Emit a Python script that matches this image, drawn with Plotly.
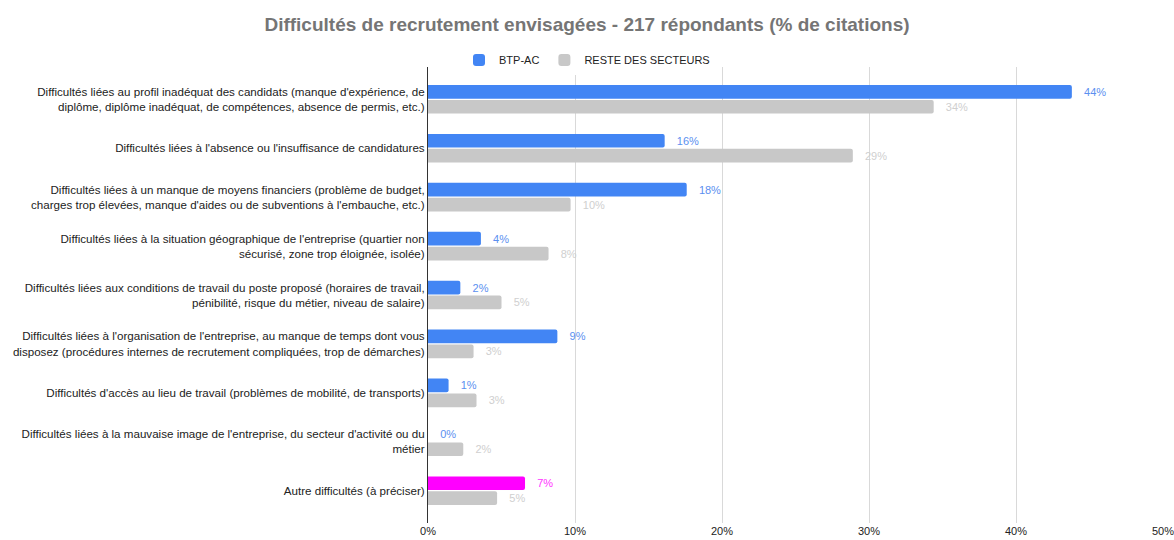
import plotly.graph_objects as go

categories = [
    "Difficultés liées au profil inadéquat des candidats (manque d'expérience, de<br>diplôme, diplôme inadéquat, de compétences, absence de permis, etc.)",
    "Difficultés liées à l'absence ou l'insuffisance de candidatures",
    "Difficultés liées à un manque de moyens financiers (problème de budget,<br>charges trop élevées, manque d'aides ou de subventions à l'embauche, etc.)",
    "Difficultés liées à la situation géographique de l'entreprise (quartier non<br>sécurisé, zone trop éloignée, isolée)",
    "Difficultés liées aux conditions de travail du poste proposé (horaires de travail,<br>pénibilité, risque du métier, niveau de salaire)",
    "Difficultés liées à l'organisation de l'entreprise, au manque de temps dont vous<br>disposez (procédures internes de recrutement compliquées, trop de démarches)",
    "Difficultés d'accès au lieu de travail (problèmes de mobilité, de transports)",
    "Difficultés liées à la mauvaise image de l'entreprise, du secteur d'activité ou du<br>métier",
    "Autre difficultés (à préciser)",
]
btp_values = [43.8, 16.1, 17.6, 3.6, 2.2, 8.8, 1.4, 0.0, 6.6]
reste_values = [34.4, 28.9, 9.7, 8.2, 5.0, 3.1, 3.3, 2.4, 4.7]
btp_colors = ["#4285f4"] * 8 + ["#ff00ff"]
btp_text_colors = ["#5b8ff0"] * 8 + ["#ff33ff"]
tick_vals = [0, 10, 20, 30, 40, 50]
tick_text = ["0%", "10%", "20%", "30%", "40%", "50%"]

FONT = "Liberation Sans, Arial"

fig = go.Figure()
fig.add_trace(go.Bar(
    name="BTP-AC", y=categories, x=btp_values, orientation="h",
    marker=dict(color=btp_colors, cornerradius=2, line=dict(width=0)),
    texttemplate="   %{x:.0f}%", textposition="outside", cliponaxis=False,
    textfont=dict(color=btp_text_colors, size=11, family=FONT),
))
fig.add_trace(go.Bar(
    name="RESTE DES SECTEURS", y=categories, x=reste_values, orientation="h",
    marker=dict(color="#c8c8c8", cornerradius=2, line=dict(width=0)),
    texttemplate="   %{x:.0f}%", textposition="outside", cliponaxis=False,
    textfont=dict(color="#cfcfcf", size=11, family=FONT),
))

fig.update_layout(
    width=1174, height=540,
    paper_bgcolor="white", plot_bgcolor="white",
    margin=dict(l=428, r=11, t=67, b=17, autoexpand=False),
    barmode="group", bargap=0.39, bargroupgap=0.08,
    font=dict(family=FONT, size=11.6, color="#222222"),
    title=dict(text="<b>Difficultés de recrutement envisagées - 217 répondants (% de citations)</b>",
               x=0.5, xanchor="center", xref="container",
               y=1 - 24 / 540, yanchor="middle", yref="container",
               font=dict(size=19, color="#757575", family=FONT)),
    legend=dict(orientation="h", x=0.5, xanchor="center", xref="container",
                y=1 + 7 / 456, yanchor="middle", yref="paper",
                font=dict(size=11, color="#222222"), traceorder="normal",
                itemwidth=30),
    showlegend=True,
)
fig.update_xaxes(range=[0, 50], tickvals=tick_vals, ticktext=tick_text,
                 showgrid=True, gridcolor="#d9d9d9", gridwidth=1,
                 zeroline=False, showline=False, ticks="", automargin=False,
                 ticklabeloverflow="allow", ticklabelstandoff=0,
                 tickfont=dict(size=11, color="#222222"), fixedrange=True)
fig.update_yaxes(range=[8.66, -0.66], showline=True, linecolor="#333333", linewidth=1,
                 ticks="", automargin=False,
                 tickfont=dict(size=11.6, color="#222222"), showgrid=False)

fig.write_html("out.html", config={"displayModeBar": False},
               post_script="document.body.style.margin='0';")
